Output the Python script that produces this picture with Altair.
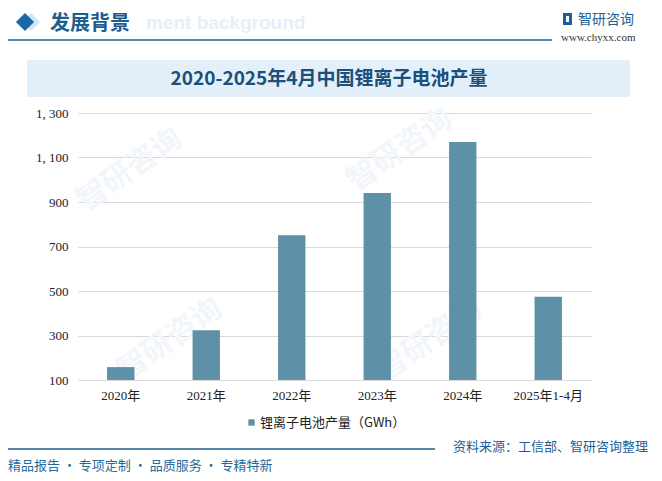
import altair as alt
import pandas as pd

categories = ["2020年", "2021年", "2022年", "2023年", "2024年", "2025年1-4月"]
values = [158, 324, 751, 940, 1170, 474]
series_name = "锂离子电池产量（GWh）"
y_ticks = [100, 300, 500, 700, 900, 1100, 1300]

title_text = "2020-2025年4月中国锂离子电池产量"
header_text = "发展背景"
source_text = "资料来源：工信部、智研咨询整理"
slogan_text = "精品报告 · 专项定制 · 品质服务 · 专精特新"

df = pd.DataFrame({"cat": categories, "val": values, "series": [series_name] * len(values)})

BAR = "#5e90a7"
CJK = "Noto Sans CJK SC"
SERIF = "Liberation Serif, Noto Sans CJK SC"

# plot area origin on page: (78, 113); helpers convert page coords to plot coords
OX, OY = 78, 113
def px(x):
    return x - OX
def py(y):
    return y - OY

base = alt.Chart(df)

bars = base.mark_bar(color=BAR).encode(
    x=alt.X("cat:N", sort=categories,
            scale=alt.Scale(paddingInner=0.68, paddingOuter=0.34),
            axis=alt.Axis(title=None, labelAngle=0, labelFont=SERIF, labelFontSize=13,
                          labelColor="#222222", domain=True, domainColor="#d9d9d9",
                          ticks=False, labelPadding=9)),
    y=alt.Y("val:Q", scale=alt.Scale(domain=[100, 1300], zero=False, nice=False),
            axis=alt.Axis(title=None, values=y_ticks,
                          labelExpr="replace(format(datum.value, ','), ',', ', ')",
                          labelFont=SERIF, labelFontSize=13, labelColor="#222222",
                          domain=False, ticks=False, labelPadding=10,
                          grid=True, gridColor="#d9d9d9")),
    y2=alt.datum(100),
    color=alt.Color("series:N", scale=alt.Scale(range=[BAR]),
                    legend=alt.Legend(title=None, orient="none", legendX=px(245), legendY=py(416),
                                      symbolType="square", symbolSize=40,
                                      labelFont=CJK, labelFontSize=13, labelColor="#222222",
                                      symbolOffset=0, labelOffset=2)),
)

def rect(x1, x2, y1, y2, color, opacity=1.0):
    return alt.Chart(pd.DataFrame({"a": [0]})).mark_rect(color=color, opacity=opacity).encode(
        x=alt.value(px(x1)), x2=alt.value(px(x2)), y=alt.value(py(y1)), y2=alt.value(py(y2)))

def text(t, x, y, size, color, font=CJK, weight="normal", align="left", angle=0, baseline="middle"):
    kw = dict(text=t, fontSize=size, color=color, font=font, fontWeight=weight,
              align=align, baseline=baseline)
    if angle:
        kw["angle"] = angle
    return alt.Chart(pd.DataFrame({"a": [0]})).mark_text(**kw).encode(
        x=alt.value(px(x)), y=alt.value(py(y)))

def rule(x1, x2, y, color, w=1.5):
    return alt.Chart(pd.DataFrame({"a": [0]})).mark_rule(color=color, strokeWidth=w).encode(
        x=alt.value(px(x1)), x2=alt.value(px(x2)), y=alt.value(py(y)))

# faint watermarks
wm = []
for (wx, wy) in [(130, 170), (400, 150), (170, 340), (430, 340)]:
    wm.append(text("智研咨询", wx, wy, 30, "#f2f6fa", weight="bold", align="center", angle=325))

header_wm = text("ment background", 146, 23, 19, "#e6eff8", font="Liberation Sans", weight="bold", align="left")
diamond_shadow = alt.Chart(pd.DataFrame({"a": [0]})).mark_point(shape="diamond", filled=True, color="#d3e5f3", size=330, opacity=1).encode(
    x=alt.value(px(31)), y=alt.value(py(22)))
diamond = alt.Chart(pd.DataFrame({"a": [0]})).mark_point(shape="diamond", filled=True, color="#1b6aa5", size=330, opacity=1).encode(
    x=alt.value(px(25)), y=alt.value(py(22)))
header = text(header_text, 50, 24, 20, "#1d5d8f", weight="bold")
header_line = rule(7, 552, 40, "#1f5f8c", 1.5)

logo_icon = rect(563, 572, 13, 25, "#1e5f99")
logo_icon2 = rect(566, 569, 16, 22, "#ffffff")
logo = text("智研咨询", 578, 20, 14, "#1e5f99")
url = text("www.chyxx.com", 561, 38, 11, "#333333", font="Liberation Serif")

banner = rect(27, 630, 60, 97, "#e3f0f9")
title = text(title_text, 329, 79, 19, "#1b4f7c", weight="bold", align="center")

bottom_line = rule(7, 435, 449, "#1f5f8c", 1.5)
source = text(source_text, 453, 447, 13, "#1e5f99")
slogan = text(slogan_text, 8, 466, 13, "#1e6b9e")

chart = alt.layer(
    *wm, header_wm, diamond_shadow, diamond, header, header_line,
    logo_icon, logo_icon2, logo, url, banner, title,
    bars, bottom_line, source, slogan
).properties(
    width=513, height=267,
    padding={"left": 70, "top": 105, "right": 63, "bottom": 93},
    autosize=alt.AutoSizeParams(type="none"),
    background="white",
).configure_view(stroke=None)

chart.save("out.html", embed_options={"renderer": "svg", "actions": False})
